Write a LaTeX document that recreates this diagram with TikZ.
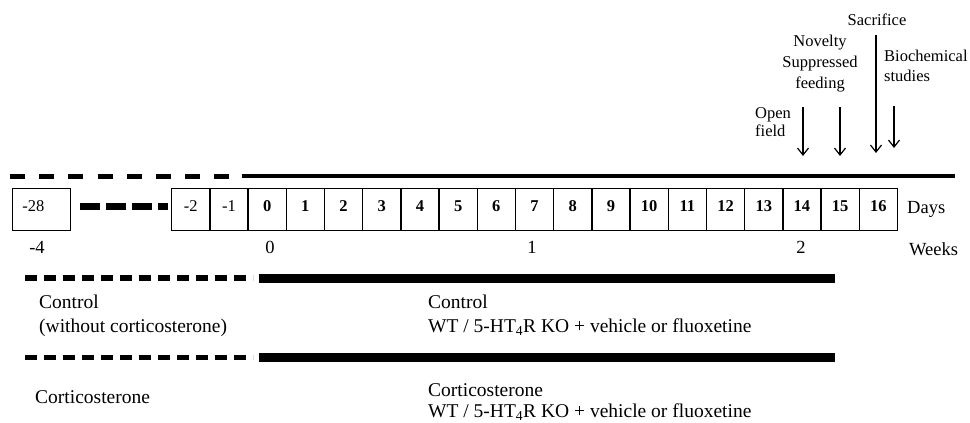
\documentclass[tikz,border=0pt]{standalone}
\usepackage{fontspec}
\setmainfont{Liberation Serif}
\usetikzlibrary{arrows.meta}
\begin{document}
\begin{tikzpicture}[x=1pt,y=-1pt,
  cellbase/.style={draw,line width=1.3pt,minimum width=38.2pt,minimum height=42pt,anchor=north west,inner sep=0pt,text height=11pt,text depth=8pt},
  cellbold/.style={cellbase,font=\fontsize{16.5}{19}\selectfont\bfseries},
  cellreg/.style={cellbase,font=\fontsize{16.5}{19}\selectfont},
  toplab/.style={anchor=base,inner sep=0pt,font=\fontsize{16.5}{20}\selectfont},
  toplabw/.style={anchor=base west,inner sep=0pt,font=\fontsize{16.5}{20}\selectfont},
  weeklab/.style={anchor=base,inner sep=0pt,font=\fontsize{18.5}{22}\selectfont},
  unitlab/.style={anchor=base west,inner sep=0pt,font=\fontsize{18.5}{22}\selectfont},
  grouplab/.style={anchor=base west,inner sep=0pt,font=\fontsize{19.5}{23}\selectfont},
  evarrow/.style={line width=1.2pt,-{Straight Barb[length=7pt,width=11pt,line width=1.2pt]}},
  topdash/.style={line width=5pt,dash pattern=on 15pt off 14.2pt},
  topsolid/.style={line width=4.5pt},
  middash/.style={line width=7pt,dash pattern=on 20pt off 6pt},
  grpdash/.style={line width=5.5pt,dash pattern=on 12pt off 7pt},
  grpsolid/.style={line width=9pt}]
\useasboundingbox (0,0) rectangle (970,423);

% top treatment line
\coordinate (tdA) at (10,176);
\coordinate (tdB) at (233,176);
\coordinate (tsA) at (242,176);
\coordinate (tsB) at (955,176);
\draw[topdash] (tdA) -- (tdB);
\draw[topsolid] (tsA) -- (tsB);

% day cells
\node[cellreg,minimum width=58.3pt,text width=38.3pt,inner xsep=10pt,align=left] (cellm28) at (11.7,188) {-28};
\coordinate (mdA) at (80,206);
\coordinate (mdB) at (168,206);
\draw[middash] (mdA) -- (mdB);
\node[cellreg] (cellm2) at (171,188) {-2};
\node[cellreg] (cellm1) at (209.2,188) {-1};
\foreach \d in {0,...,16}{
  \node[cellbold] (cell\d) at ({171+(\d+2)*38.2},188) {\d};
}
\node[unitlab] (days) at (907,213) {Days};

% weeks
\node[weeklab] (wm4) at (37,253) {-4};
\node[weeklab] (w0) at (270,253) {0};
\node[weeklab] (w1) at (532,253) {1};
\node[weeklab] (w2) at (801,253) {2};
\node[unitlab] (weeks) at (909,255) {Weeks};

% event labels
\node[toplab] (sacr) at (877,25) {Sacrifice};
\node[toplab] (nov1) at (820,46) {Novelty};
\node[toplab] (nov2) at (820,67) {Suppressed};
\node[toplab] (nov3) at (820,88) {feeding};
\node[toplabw] (bio1) at (884,61) {Biochemical};
\node[toplabw] (bio2) at (884,81) {studies};
\node[toplabw] (open1) at (755,118) {Open};
\node[toplabw] (open2) at (755,136) {field};

\coordinate (aoA) at (803,107); \coordinate (aoB) at (803,156);
\coordinate (anA) at (840,107); \coordinate (anB) at (840,156);
\coordinate (asA) at (876,35);  \coordinate (asB) at (876,153);
\coordinate (abA) at (894,106); \coordinate (abB) at (894,148);
\draw[evarrow] (aoA) -- (aoB);
\draw[evarrow] (anA) -- (anB);
\draw[evarrow] (asA) -- (asB);
\draw[evarrow] (abA) -- (abB);

% group bars
\coordinate (g1dA) at (25,278); \coordinate (g1dB) at (253,278);
\coordinate (g1sA) at (259,278); \coordinate (g1sB) at (835,278);
\draw[grpdash] (g1dA) -- (g1dB);
\draw[grpsolid] (g1sA) -- (g1sB);
\coordinate (g2dA) at (25,357.5); \coordinate (g2dB) at (253,357.5);
\coordinate (g2sA) at (259,357.5); \coordinate (g2sB) at (835,357.5);
\draw[grpdash] (g2dA) -- (g2dB);
\draw[grpsolid] (g2sA) -- (g2sB);

% group labels
\node[grouplab] (c1) at (39,308) {Control};
\node[grouplab] (c2) at (39,332) {(without corticosterone)};
\node[grouplab] (k1) at (35,403) {Corticosterone};
\node[grouplab] (c3) at (428,308) {Control};
\node[grouplab] (c4) at (428,332) {WT / 5-HT\textsubscript{4}R KO + vehicle or fluoxetine};
\node[grouplab] (k2) at (428,396) {Corticosterone};
\node[grouplab] (k3) at (428,417) {WT / 5-HT\textsubscript{4}R KO + vehicle or fluoxetine};
\end{tikzpicture}
\end{document}
